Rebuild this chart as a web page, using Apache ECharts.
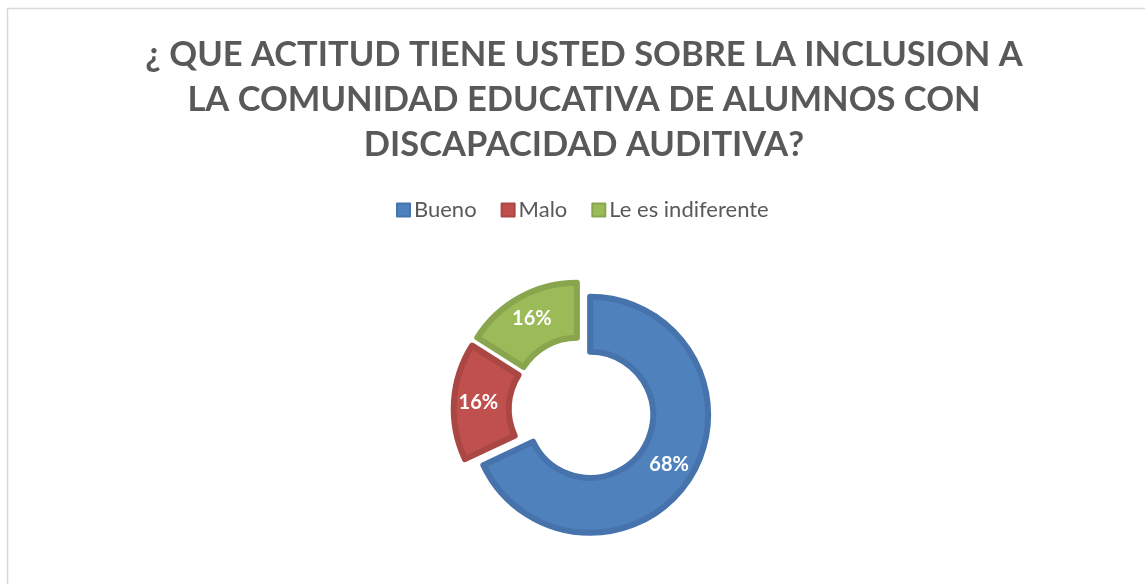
<!DOCTYPE html>
<html><head><meta charset="utf-8">
<script src="https://cdn.jsdelivr.net/npm/echarts@6/dist/echarts.min.js"></script>
<style>html,body{margin:0;padding:0;background:#fff;}#c{width:1145px;height:584px;}</style>
</head><body><div id="c"></div>
<script>
const titleText = "¿ QUE ACTITUD TIENE USTED SOBRE LA INCLUSION A\nLA COMUNIDAD EDUCATIVA DE ALUMNOS CON\nDISCAPACIDAD AUDITIVA?";
const categories = ["Bueno", "Malo", "Le es indiferente"];
const values = [68, 16, 16];
const fillColors = ["#4F81BD", "#C0504D", "#9BBB59"];
const borderColors = ["#4673AB", "#AA4643", "#89A54E"];

const chart = echarts.init(document.getElementById('c'), null, {renderer: 'canvas'});
chart.setOption({
  animation: false,
  backgroundColor: '#fff',
  graphic: [{
    type: 'rect', shape: {x: 7.5, y: 8.5, width: 1160, height: 600},
    style: {fill: 'none', stroke: '#D9D9D9', lineWidth: 1.5}, silent: true
  }],
  title: {
    text: titleText, left: 579, top: 27, textAlign: 'center',
    textStyle: {fontFamily: 'Lato', fontWeight: 'bold', fontSize: 34.5, color: '#595959', lineHeight: 45}
  },
  legend: {
    data: categories, left: 391, top: 194, itemWidth: 13, itemHeight: 13, itemGap: 24,
    icon: 'rect',
    textStyle: {fontFamily: 'Lato', fontSize: 22, color: '#595959', padding: [0, 0, 0, -1]}
  },
  series: [{
    type: 'pie', center: [581.7, 409.5], radius: [63, 118],
    startAngle: 90, clockwise: true,
    selectedMode: 'multiple', selectedOffset: 10,
    label: {show: true, position: 'inside', formatter: '{d}%', color: '#fff',
      fontFamily: 'Lato', fontWeight: 'bold', fontSize: 20},
    labelLine: {show: false},
    emphasis: {disabled: true},
    data: categories.map((n, i) => ({
      name: n, value: values[i], selected: true,
      itemStyle: {color: fillColors[i], borderColor: borderColors[i], borderWidth: 6}
    }))
  }]
});
</script></body></html>
